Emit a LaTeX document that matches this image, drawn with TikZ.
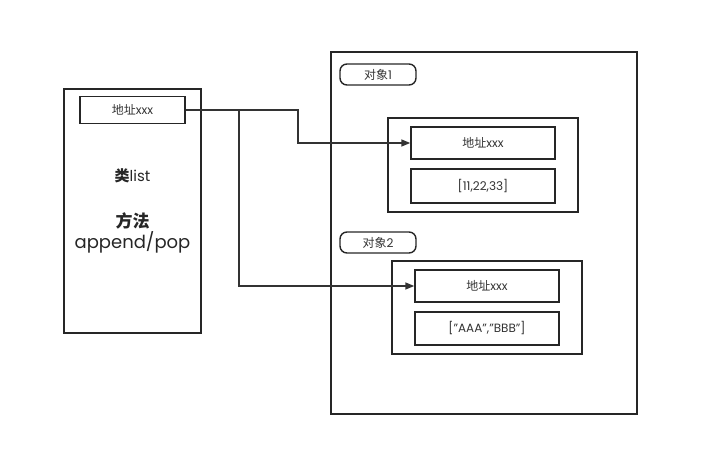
\documentclass[tikz,border=0pt]{standalone}
\usepackage{fontspec}
\setmainfont{Poppins}
\newfontfamily\cjk{Noto Sans CJK SC}
\usetikzlibrary{arrows.meta}
\begin{document}
\begin{tikzpicture}[x=1pt,y=-1pt,
  box/.style={draw=black!85,line width=1.4pt},
  cell/.style={draw=black!85,line width=1.4pt,inner sep=0pt},
  pill/.style={draw=black!85,line width=1.4pt,rounded corners=7pt},
  small/.style={font=\fontsize{12}{14}\selectfont,text=black!80},
  conn/.style={draw=black!80,line width=1.4pt},
  arr/.style={conn,-{Triangle[length=9pt,width=7pt]}}]
\useasboundingbox (0,0) rectangle (702,457);
% left class box
\draw[box] (64,89) rectangle (201,333);
\node[cell,small,minimum width=105pt,minimum height=27pt] (addr0) at (132.5,110) {{\cjk 地址}xxx};
\node[font=\fontsize{15}{17}\selectfont,text=black!85] (cls) at (132.5,176) {{\cjk\bfseries 类}list};
\node[font=\fontsize{17}{19}\selectfont,text=black!85] (meth) at (132.5,221) {{\cjk\bfseries 方法}};
\node[font=\fontsize{18}{20}\selectfont,text=black!85] (app) at (132.5,242) {append/pop};
% right big box
\draw[box] (331,52) rectangle (637,414);
% object 1
\node[pill,small,minimum width=76pt,minimum height=21pt] (p1) at (378,74.5) {{\cjk 对象}1};
\draw[box] (388,118) rectangle (578,212);
\node[cell,small,minimum width=144pt,minimum height=32pt] (a1) at (483,143) {{\cjk 地址}xxx};
\node[cell,small,minimum width=144pt,minimum height=34pt] (d1) at (483,186) {[11,22,33]};
% object 2
\node[pill,small,minimum width=76pt,minimum height=21pt] (p2) at (378,242.5) {{\cjk 对象}2};
\draw[box] (392,261) rectangle (582,354);
\node[cell,small,minimum width=144pt,minimum height=32pt] (a2) at (487,286) {{\cjk 地址}xxx};
\node[cell,small,minimum width=144pt,minimum height=33pt] (d2) at (487,328.5) {["AAA","BBB"]};
% connectors
\coordinate (j) at (239,110);
\draw[arr] (addr0.east) -- (298,110) |- (a1.west);
\draw[arr] (j) |- (a2.west);
\end{tikzpicture}
\end{document}
